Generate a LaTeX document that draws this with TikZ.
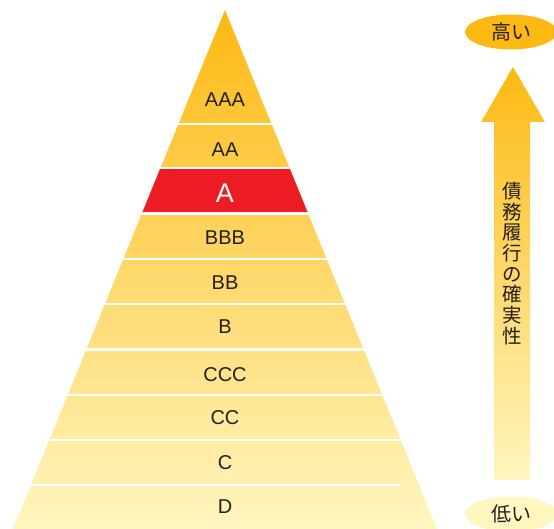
\documentclass[tikz,border=0pt]{standalone}
\usepackage{fontspec}
\setmainfont{Liberation Sans}
\newfontfamily\jpfont{Noto Sans CJK JP}
\usetikzlibrary{shapes.geometric}

\definecolor{rankTop}{HTML}{FDB913}
\definecolor{rankBottom}{HTML}{FFF6C0}
\definecolor{rankRed}{HTML}{ED1C24}
\definecolor{labelGray}{HTML}{231F20}

\tikzset{
  grade/.style={text=labelGray,font=\fontsize{20}{20}\selectfont,inner sep=0pt},
  bandline/.style={white,line width=2.5pt},
  level/.style={ellipse,minimum width=92pt,minimum height=35pt,inner sep=0pt,
    text=labelGray,font=\jpfont\fontsize{20}{20}\selectfont},
}

\begin{document}
\begin{tikzpicture}[x=1pt,y=-1pt]
\useasboundingbox (0,0) rectangle (554,529);
\clip (0,0) rectangle (554,529);

% pyramid
\begin{scope}
\clip (225,10) -- (437,529) -- (13,529) -- cycle;
\shade[top color=rankTop,bottom color=rankBottom] (0,10) rectangle (554,529);
\fill[rankRed] (0,168) rectangle (554,213.5);

\draw[bandline] (0,124) -- (554,124);
\draw[bandline] (0,168) -- (554,168);
\draw[bandline] (0,213.5) -- (554,213.5);
\draw[bandline] (0,259) -- (554,259);
\draw[bandline] (0,304) -- (554,304);
\draw[bandline] (0,349.5) -- (554,349.5);
\draw[bandline] (0,395) -- (554,395);
\draw[bandline] (0,440) -- (554,440);
\draw[bandline] (0,485) -- (400,485);
\end{scope}

\node[grade] (aaa) at (225,100) {AAA};
\node[grade] (aa) at (225,150) {AA};
\node[grade,text=white,font=\fontsize{27}{27}\selectfont] (a) at (225,193) {A};
\node[grade] (bbb) at (225,238) {BBB};
\node[grade] (bb) at (225,283) {BB};
\node[grade] (b) at (225,327) {B};
\node[grade] (ccc) at (225,375) {CCC};
\node[grade] (cc) at (225,418) {CC};
\node[grade] (c) at (225,463) {C};
\node[grade] (d) at (225,507) {D};

% arrow
\shade[top color=rankTop,bottom color=rankBottom]
  (513,67) -- (545,122) -- (530,122) -- (530,480) -- (494,480) -- (494,122) -- (481,122) -- cycle;
\node[text=labelGray,font=\jpfont\fontsize{19.5}{20.7}\selectfont,align=center,inner sep=0pt]
  (certainty) at (512,263.5) {債\\務\\履\\行\\の\\確\\実\\性};

\node[level,fill=rankTop] (high) at (511,32) {高い};
\node[level,fill=rankBottom] (low) at (511,514) {低い};
\end{tikzpicture}
\end{document}
